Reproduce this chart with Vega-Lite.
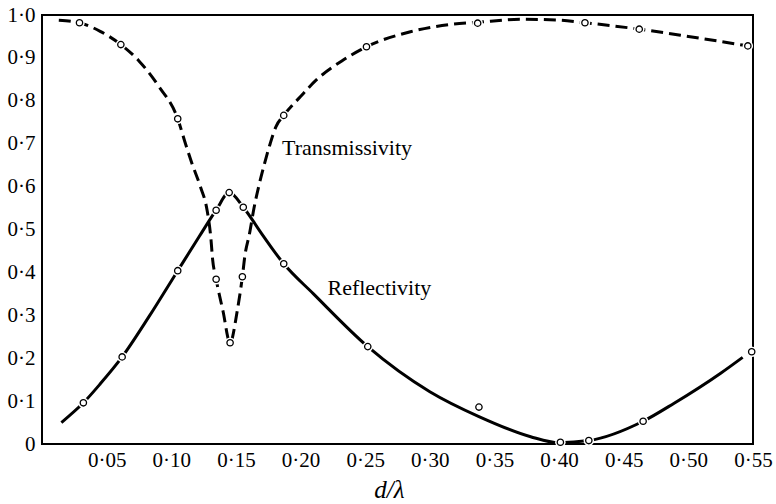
{
  "$schema": "https://vega.github.io/schema/vega-lite/v6.json",
  "width": 711,
  "height": 429,
  "autosize": {"type": "none"},
  "padding": {"left": 42, "top": 15, "right": 23, "bottom": 60},
  "background": "white",
  "config": {
    "view": {"stroke": "black", "strokeWidth": 2},
    "axis": {
      "domain": false,
      "ticks": false,
      "tickSize": 0,
      "grid": false,
      "labelFont": "Liberation Serif",
      "labelFontSize": 21,
      "labelColor": "black",
      "labelOverlap": false,
      "labelFlush": false,
      "titleFont": "Liberation Serif",
      "titleColor": "black"
    }
  },
  "datasets": {
    "curves": [
      {"series": "T", "x": 0.013, "y": 0.988},
      {"series": "T", "x": 0.029, "y": 0.982},
      {"series": "T", "x": 0.045, "y": 0.962},
      {"series": "T", "x": 0.061, "y": 0.931},
      {"series": "T", "x": 0.075, "y": 0.893},
      {"series": "T", "x": 0.090, "y": 0.835},
      {"series": "T", "x": 0.105, "y": 0.758},
      {"series": "T", "x": 0.111, "y": 0.70},
      {"series": "T", "x": 0.116, "y": 0.654},
      {"series": "T", "x": 0.1225, "y": 0.60},
      {"series": "T", "x": 0.1277, "y": 0.545},
      {"series": "T", "x": 0.1305, "y": 0.484},
      {"series": "T", "x": 0.132, "y": 0.43},
      {"series": "T", "x": 0.1347, "y": 0.384},
      {"series": "T", "x": 0.140, "y": 0.31},
      {"series": "T", "x": 0.1455, "y": 0.236},
      {"series": "T", "x": 0.151, "y": 0.31},
      {"series": "T", "x": 0.155, "y": 0.39},
      {"series": "T", "x": 0.157, "y": 0.44},
      {"series": "T", "x": 0.1605, "y": 0.49},
      {"series": "T", "x": 0.164, "y": 0.55},
      {"series": "T", "x": 0.168, "y": 0.605},
      {"series": "T", "x": 0.1718, "y": 0.65},
      {"series": "T", "x": 0.1765, "y": 0.70},
      {"series": "T", "x": 0.181, "y": 0.74},
      {"series": "T", "x": 0.187, "y": 0.766},
      {"series": "T", "x": 0.200, "y": 0.81},
      {"series": "T", "x": 0.212, "y": 0.848},
      {"series": "T", "x": 0.233, "y": 0.895},
      {"series": "T", "x": 0.251, "y": 0.926},
      {"series": "T", "x": 0.285, "y": 0.961},
      {"series": "T", "x": 0.316, "y": 0.978},
      {"series": "T", "x": 0.337, "y": 0.983},
      {"series": "T", "x": 0.370, "y": 0.99},
      {"series": "T", "x": 0.400, "y": 0.988},
      {"series": "T", "x": 0.420, "y": 0.982},
      {"series": "T", "x": 0.462, "y": 0.967},
      {"series": "T", "x": 0.500, "y": 0.95},
      {"series": "T", "x": 0.546, "y": 0.928},
      {"series": "R", "x": 0.015, "y": 0.05},
      {"series": "R", "x": 0.032, "y": 0.096},
      {"series": "R", "x": 0.045, "y": 0.14},
      {"series": "R", "x": 0.062, "y": 0.203},
      {"series": "R", "x": 0.083, "y": 0.298},
      {"series": "R", "x": 0.105, "y": 0.404},
      {"series": "R", "x": 0.1215, "y": 0.483},
      {"series": "R", "x": 0.1347, "y": 0.545},
      {"series": "R", "x": 0.1448, "y": 0.586},
      {"series": "R", "x": 0.1557, "y": 0.552},
      {"series": "R", "x": 0.170, "y": 0.49},
      {"series": "R", "x": 0.187, "y": 0.42},
      {"series": "R", "x": 0.210, "y": 0.35},
      {"series": "R", "x": 0.252, "y": 0.227},
      {"series": "R", "x": 0.300, "y": 0.122},
      {"series": "R", "x": 0.338, "y": 0.064},
      {"series": "R", "x": 0.378, "y": 0.017},
      {"series": "R", "x": 0.400, "y": 0.003},
      {"series": "R", "x": 0.423, "y": 0.008},
      {"series": "R", "x": 0.465, "y": 0.053},
      {"series": "R", "x": 0.489, "y": 0.095},
      {"series": "R", "x": 0.525, "y": 0.165},
      {"series": "R", "x": 0.542, "y": 0.202}
    ],
    "points": [
      {"series": "T", "x": 0.029, "y": 0.982},
      {"series": "T", "x": 0.061, "y": 0.931},
      {"series": "T", "x": 0.105, "y": 0.758},
      {"series": "T", "x": 0.1347, "y": 0.384},
      {"series": "T", "x": 0.1455, "y": 0.236},
      {"series": "T", "x": 0.155, "y": 0.39},
      {"series": "T", "x": 0.187, "y": 0.766},
      {"series": "T", "x": 0.251, "y": 0.926},
      {"series": "T", "x": 0.337, "y": 0.981},
      {"series": "T", "x": 0.420, "y": 0.982},
      {"series": "T", "x": 0.462, "y": 0.967},
      {"series": "T", "x": 0.546, "y": 0.928},
      {"series": "R", "x": 0.032, "y": 0.096},
      {"series": "R", "x": 0.062, "y": 0.203},
      {"series": "R", "x": 0.105, "y": 0.404},
      {"series": "R", "x": 0.1347, "y": 0.545},
      {"series": "R", "x": 0.1448, "y": 0.586},
      {"series": "R", "x": 0.1557, "y": 0.552},
      {"series": "R", "x": 0.187, "y": 0.42},
      {"series": "R", "x": 0.252, "y": 0.227},
      {"series": "R", "x": 0.338, "y": 0.086},
      {"series": "R", "x": 0.401, "y": 0.004},
      {"series": "R", "x": 0.423, "y": 0.008},
      {"series": "R", "x": 0.465, "y": 0.053},
      {"series": "R", "x": 0.549, "y": 0.215}
    ],
    "labels": [
      {"x": 0.236, "y": 0.69, "text": "Transmissivity"},
      {"x": 0.261, "y": 0.364, "text": "Reflectivity"}
    ],
    "xticks": [
      {"x": 0.05}, {"x": 0.1}, {"x": 0.15}, {"x": 0.2}, {"x": 0.25},
      {"x": 0.3}, {"x": 0.35}, {"x": 0.4}, {"x": 0.45}, {"x": 0.5}
    ],
    "yticks": [
      {"y": 0.1}, {"y": 0.2}, {"y": 0.3}, {"y": 0.4}, {"y": 0.5},
      {"y": 0.6}, {"y": 0.7}, {"y": 0.8}, {"y": 0.9}
    ]
  },
  "encoding": {
    "x": {
      "field": "x", "type": "quantitative",
      "scale": {"domain": [0, 0.55], "nice": false, "zero": false},
      "axis": {
        "orient": "bottom",
        "values": [0.05, 0.1, 0.15, 0.2, 0.25, 0.3, 0.35, 0.4, 0.45, 0.5, 0.55],
        "labelExpr": "replace(format(datum.value, '.2f'), '.', '·')",
        "labelPadding": 5,
        "title": "d/λ",
        "titleFontStyle": "italic",
        "titleFontWeight": "normal",
        "titleFontSize": 25,
        "titleX": 347,
        "titleY": 53,
        "titleAlign": "center",
        "titleBaseline": "alphabetic"
      }
    },
    "y": {
      "field": "y", "type": "quantitative",
      "scale": {"domain": [0, 1], "nice": false, "zero": false},
      "axis": {
        "orient": "left",
        "values": [0, 0.1, 0.2, 0.3, 0.4, 0.5, 0.6, 0.7, 0.8, 0.9, 1.0],
        "labelExpr": "datum.value == 0 ? '0' : replace(format(datum.value, '.1f'), '.', '·')",
        "labelPadding": 7,
        "title": null
      }
    }
  },
  "layer": [
    {
      "data": {"name": "curves"},
      "transform": [{"filter": "datum.series == 'T'"}],
      "mark": {"type": "line", "interpolate": "monotone", "color": "black", "strokeWidth": 3, "strokeDash": [12, 6]}
    },
    {
      "data": {"name": "curves"},
      "transform": [{"filter": "datum.series == 'R'"}],
      "mark": {"type": "line", "interpolate": "monotone", "color": "black", "strokeWidth": 3}
    },
    {
      "data": {"name": "points"},
      "mark": {"type": "point", "shape": "circle", "filled": true, "color": "white", "opacity": 1, "size": 110}
    },
    {
      "data": {"name": "points"},
      "mark": {"type": "point", "shape": "circle", "filled": false, "fill": "white", "fillOpacity": 1, "stroke": "black", "strokeWidth": 1.3, "opacity": 1, "size": 40}
    },
    {
      "data": {"name": "labels"},
      "mark": {"type": "text", "font": "Liberation Serif", "fontSize": 22, "color": "black", "align": "center", "baseline": "middle"},
      "encoding": {"text": {"field": "text"}}
    },
    {
      "data": {"name": "xticks"},
      "mark": {"type": "tick", "orient": "vertical", "color": "black", "opacity": 1, "thickness": 2, "size": 10},
      "encoding": {"y": {"datum": 0.01166}}
    },
    {
      "data": {"name": "xticks"},
      "mark": {"type": "tick", "orient": "vertical", "color": "black", "opacity": 1, "thickness": 2, "size": 10},
      "encoding": {"y": {"datum": 0.98834}}
    },
    {
      "data": {"name": "yticks"},
      "mark": {"type": "tick", "orient": "horizontal", "color": "black", "opacity": 1, "thickness": 2, "size": 10},
      "encoding": {"x": {"datum": 0.00387}}
    },
    {
      "data": {"name": "yticks"},
      "mark": {"type": "tick", "orient": "horizontal", "color": "black", "opacity": 1, "thickness": 2, "size": 10},
      "encoding": {"x": {"datum": 0.54613}}
    }
  ]
}
